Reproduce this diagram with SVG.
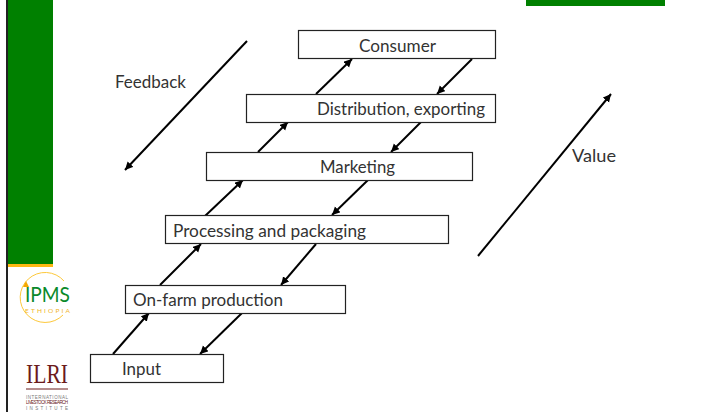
<svg xmlns="http://www.w3.org/2000/svg" width="702" height="412" viewBox="0 0 702 412">
<defs>
<marker id="a" markerUnits="userSpaceOnUse" markerWidth="10" markerHeight="10" refX="8" refY="4" orient="auto"><path d="M0 0L8 4L0 8z" fill="#000"/></marker>
</defs>
<style>
.n{fill:#fff;stroke:#222;stroke-width:1.2}
.t{font-family:"Lato","Open Sans",sans-serif;font-size:17px;fill:#333}
.c{fill:none;stroke:#000;stroke-width:2;marker-end:url(#a)}
.v{font-family:"Liberation Sans",sans-serif;fill:#777;font-size:4.5px}
</style>
<rect width="702" height="412" fill="#fff"/>
<g id="sidebar">
<rect x="8" y="0" width="45" height="264" fill="#008000"/>
<rect x="8" y="264" width="45" height="3" fill="#fdb813"/>
<rect x="6" y="0" width="2" height="412" fill="#222"/>
</g>
<rect id="top-bar" x="526" y="0" width="139" height="6" fill="#008000"/>
<g id="logo-ipms">
<path d="M64 281A25 25 0 1 0 63 315" fill="none" stroke="#fdc83a" stroke-width="1"/>
<path d="M23 287L26 281L29 287z" fill="#f5a800"/>
<text x="25" y="302" style="font-family:'Lato',sans-serif;font-size:21px;fill:#0a8a2a" textLength="45" lengthAdjust="spacingAndGlyphs">IPMS</text>
<text x="25" y="313" style="font-family:'Lato',sans-serif;font-size:6.500px;fill:#f0b429" textLength="45">ETHIOPIA</text>
</g>
<g id="logo-ilri">
<text x="26" y="383" style="font-family:'Liberation Serif',serif;font-size:28px;fill:#6b1a1a" textLength="42" lengthAdjust="spacingAndGlyphs">ILRI</text>
<line x1="26" y1="389" x2="68" y2="389" stroke="#6b1a1a"/>
<text x="26" y="398.500" class="v" textLength="42">INTERNATIONAL</text>
<text x="26" y="404" class="v" textLength="42" style="fill:#6b1a1a">LIVESTOCK RESEARCH</text>
<text x="26" y="410" class="v" textLength="42">INSTITUTE</text>
</g>
<g id="connectors">
<line class="c" x1="113" y1="354" x2="149" y2="313"/>
<line class="c" x1="160" y1="285" x2="201" y2="244"/>
<line class="c" x1="205" y1="216" x2="243" y2="180"/>
<line class="c" x1="258" y1="152" x2="288" y2="122"/>
<line class="c" x1="316" y1="94" x2="352" y2="59"/>
<line class="c" x1="472" y1="59" x2="437" y2="94"/>
<line class="c" x1="421" y1="122" x2="391" y2="152"/>
<line class="c" x1="368" y1="180" x2="332" y2="215"/>
<line class="c" x1="316" y1="244" x2="281" y2="285"/>
<line class="c" x1="242" y1="313" x2="200" y2="354"/>
<line class="c" x1="247" y1="41" x2="125" y2="170"/>
<line class="c" x1="478" y1="256" x2="611" y2="94"/>
</g>
<g id="node-consumer"><rect class="n" x="298.500" y="30.500" width="197" height="28"/><text class="t" x="359" y="51.500" textLength="77" lengthAdjust="spacingAndGlyphs">Consumer</text></g>
<g id="node-distribution"><rect class="n" x="246.500" y="94.500" width="249" height="28"/><text class="t" x="317" y="114.500" textLength="168" lengthAdjust="spacingAndGlyphs">Distribution, exporting</text></g>
<g id="node-marketing"><rect class="n" x="206.500" y="152.500" width="266" height="28"/><text class="t" x="320" y="172.500" textLength="75" lengthAdjust="spacingAndGlyphs">Marketing</text></g>
<g id="node-processing"><rect class="n" x="165.500" y="215.500" width="283" height="28"/><text class="t" x="173" y="237" textLength="193" lengthAdjust="spacingAndGlyphs">Processing and packaging</text></g>
<g id="node-onfarm"><rect class="n" x="125.500" y="285.500" width="220" height="28"/><text class="t" x="133" y="305.500" textLength="150" lengthAdjust="spacingAndGlyphs">On-farm production</text></g>
<g id="node-input"><rect class="n" x="90.500" y="354.500" width="133" height="28"/><text class="t" x="122" y="374.500" textLength="39" lengthAdjust="spacingAndGlyphs">Input</text></g>
<text class="t" x="115" y="87.500" textLength="71" lengthAdjust="spacingAndGlyphs">Feedback</text>
<text class="t" x="572" y="161.500" textLength="44" lengthAdjust="spacingAndGlyphs">Value</text>
</svg>
